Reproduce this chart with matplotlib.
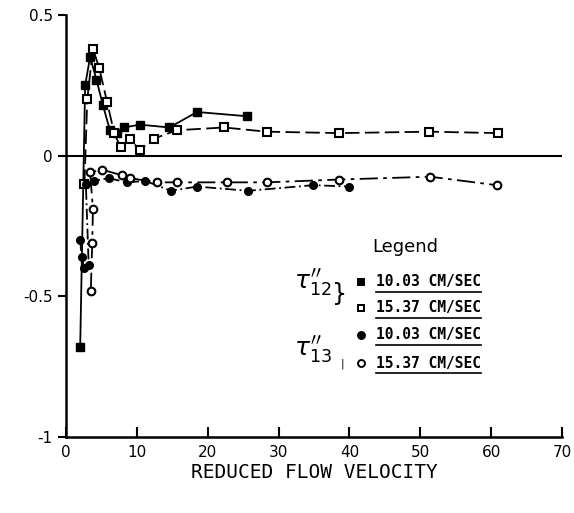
import matplotlib
matplotlib.use("Agg")
import matplotlib.pyplot as plt

# tau12'' at 10.03 cm/sec (filled squares)
t12_slow_x = [2.0, 2.7, 3.4, 4.3, 5.2, 6.2, 7.2, 8.2, 10.4, 14.6, 18.5, 25.5]
t12_slow_y = [-0.68, 0.25, 0.35, 0.27, 0.18, 0.09, 0.08, 0.10, 0.11, 0.10, 0.155, 0.14]

# tau12'' at 15.37 cm/sec (open squares)
t12_fast_x = [2.6, 3.0, 3.8, 4.7, 5.8, 6.8, 7.7, 9.0, 10.4, 12.4, 15.6, 22.3, 28.3, 38.6, 51.3, 61.0]
t12_fast_y = [-0.10, 0.20, 0.38, 0.31, 0.19, 0.08, 0.03, 0.06, 0.02, 0.06, 0.09, 0.10, 0.085, 0.08, 0.085, 0.08]

# tau13'' at 10.03 cm/sec (filled circles)
t13_slow_x = [2.0, 2.2, 2.6, 3.2, 2.8, 4.0, 6.0, 8.6, 11.2, 14.8, 18.5, 25.7, 34.9, 40.0]
t13_slow_y = [-0.30, -0.36, -0.40, -0.39, -0.10, -0.09, -0.08, -0.095, -0.09, -0.125, -0.11, -0.125, -0.105, -0.11]

# tau13'' at 15.37 cm/sec (open circles)
t13_fast_x = [3.5, 3.7, 3.8, 3.4, 5.1, 7.9, 9.0, 12.8, 15.7, 22.7, 28.4, 38.5, 51.4, 60.8]
t13_fast_y = [-0.48, -0.31, -0.19, -0.06, -0.05, -0.07, -0.08, -0.095, -0.095, -0.095, -0.095, -0.085, -0.075, -0.105]

x_ticks = [0, 10, 20, 30, 40, 50, 60, 70]
y_ticks = [-1, -0.5, 0, 0.5]
y_tick_labels = ["-1", "-0.5", "0", "0.5"]
legend_labels = ["10.03 CM/SEC", "15.37 CM/SEC", "10.03 CM/SEC", "15.37 CM/SEC"]

fig = plt.figure(figsize=(5.74, 5.13), dpi=100)
ax = fig.add_axes([0.115, 0.148, 0.864, 0.823])

ms = 5.5
ax.plot(t12_slow_x, t12_slow_y, color="black", lw=1.3, ls="-", marker="s",
        ms=ms, mfc="black", mec="black")
ax.plot(t12_fast_x, t12_fast_y, color="black", lw=1.3, ls=(0, (8, 3)), marker="s",
        ms=ms, mfc="white", mec="black", mew=1.5)
ax.plot(t13_slow_x, t13_slow_y, color="black", lw=1.3, ls=(0, (6, 2, 1, 2)), marker="o",
        ms=ms, mfc="black", mec="black")
ax.plot(t13_fast_x, t13_fast_y, color="black", lw=1.3, ls=(0, (10, 3, 2, 3)), marker="o",
        ms=ms, mfc="white", mec="black", mew=1.5)

ax.axhline(0, color="black", lw=1.5)

ax.set_xlim(0, 70)
ax.set_ylim(-1, 0.5)
ax.set_xticks(x_ticks)
ax.set_yticks(y_ticks)
ax.set_yticklabels(y_tick_labels)
ax.spines["top"].set_visible(False)
ax.spines["right"].set_visible(False)
ax.spines["left"].set_linewidth(1.8)
ax.spines["bottom"].set_linewidth(1.8)
ax.tick_params(axis="x", direction="in", length=7, width=1.5, labelsize=11, pad=6)
ax.tick_params(axis="y", direction="out", length=6, width=1.5, labelsize=11)
ax.set_xlabel("REDUCED FLOW VELOCITY", fontsize=14, family="DejaVu Sans Mono", labelpad=2)

# hand-drawn style legend
ax.text(47.9, -0.325, "Legend", fontsize=13, ha="center", va="center")
ax.text(34.8, -0.45, r"$\tau_{12}''$", fontsize=18, ha="center", va="center")
ax.text(38.6, -0.49, "}", fontsize=17, ha="center", va="center")
ax.text(34.8, -0.69, r"$\tau_{13}''$", fontsize=18, ha="center", va="center")
ax.text(39.0, -0.74, "|", fontsize=8, ha="center", va="center")
leg_y = [-0.448, -0.541, -0.637, -0.737]
leg_marker = ["s", "s", "o", "o"]
leg_fill = ["black", "white", "black", "white"]
for ly, mk, fc, lab in zip(leg_y, leg_marker, leg_fill, legend_labels):
    ax.plot([41.6], [ly], marker=mk, ms=5, mfc=fc, mec="black", mew=1.4, ls="none")
    ax.text(43.8, ly, lab, fontsize=10.5, ha="left", va="center",
            family="DejaVu Sans Mono", fontweight="bold")
    ax.plot([43.8, 58.6], [ly - 0.035, ly - 0.035], color="black", lw=1.2)

fig.savefig("out.png", dpi=100)
